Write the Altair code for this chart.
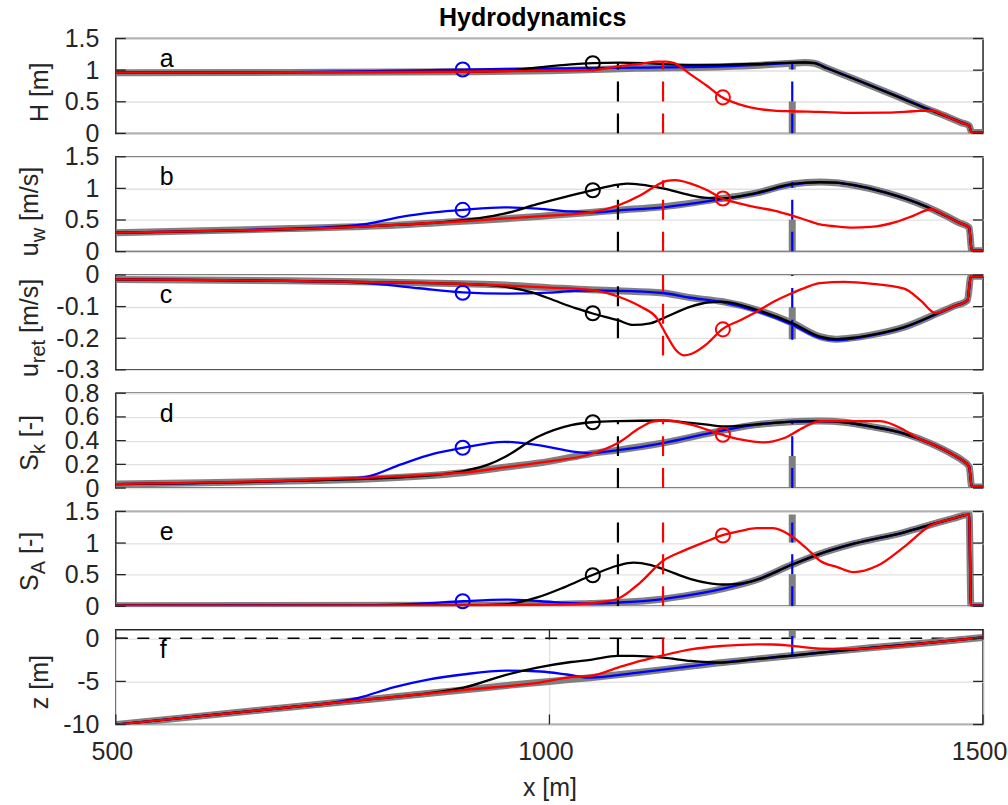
import altair as alt
import pandas as pd

# ---------------- data ----------------
# Panel a : H [m]
A_GREY_X = [500, 700, 900, 1000, 1100, 1200, 1250, 1280, 1295, 1305, 1320, 1400, 1435, 1460, 1475, 1484, 1487, 1500]
A_GREY_Y = [0.96, 0.965, 0.975, 0.99, 1.03, 1.055, 1.085, 1.11, 1.12, 1.11, 1.03, 0.59, 0.39, 0.255, 0.17, 0.12, 0.015, 0.015]
A_BLUE_X = [500, 700, 800, 850, 900, 950, 1000, 1100, 1200, 1250, 1280, 1295, 1305, 1320, 1400, 1435, 1460, 1475, 1484, 1487, 1500]
A_BLUE_Y = [0.96, 0.97, 0.985, 0.995, 1.01, 1.02, 1.025, 1.04, 1.06, 1.09, 1.115, 1.125, 1.115, 1.035, 0.595, 0.395, 0.26, 0.175, 0.125, 0.015, 0.015]
A_BLACK_X = [500, 900, 950, 985, 1025, 1050, 1080, 1110, 1131, 1160, 1200, 1250, 1280, 1295, 1305, 1320, 1400, 1435, 1460, 1475, 1484, 1487, 1500]
A_BLACK_Y = [0.96, 0.975, 0.99, 1.04, 1.09, 1.11, 1.12, 1.11, 1.095, 1.085, 1.085, 1.105, 1.12, 1.12, 1.11, 1.03, 0.59, 0.39, 0.255, 0.17, 0.12, 0.015, 0.015]
A_RED_X = [500, 900, 1000, 1047, 1079, 1105, 1125, 1135, 1144, 1163, 1182, 1199, 1220, 1239, 1259, 1278, 1312, 1350, 1390, 1420, 1440, 1460, 1475, 1484, 1487, 1500]
A_RED_Y = [0.96, 0.975, 0.99, 0.995, 1.06, 1.10, 1.135, 1.135, 1.11, 0.93, 0.75, 0.57, 0.455, 0.39, 0.36, 0.35, 0.34, 0.325, 0.33, 0.35, 0.362, 0.255, 0.17, 0.12, 0.015, 0.015]

# Panel b : u_w [m/s]
B_GREY_X = [500, 600, 700, 790, 900, 950, 1000, 1047, 1079, 1131, 1199, 1239, 1280, 1312, 1330, 1351, 1389, 1435, 1458, 1472, 1484, 1487, 1500]
B_GREY_Y = [0.30, 0.33, 0.365, 0.40, 0.48, 0.52, 0.57, 0.62, 0.655, 0.71, 0.84, 0.93, 1.07, 1.10, 1.09, 1.05, 0.93, 0.71, 0.56, 0.46, 0.38, 0.015, 0.015]
B_BLUE_X = [500, 700, 750, 790, 829, 867, 900, 948, 986, 1025, 1050, 1079, 1131, 1199, 1239, 1280, 1312, 1330, 1351, 1389, 1435, 1458, 1472, 1484, 1487, 1500]
B_BLUE_Y = [0.30, 0.365, 0.39, 0.44, 0.55, 0.62, 0.66, 0.70, 0.68, 0.635, 0.62, 0.65, 0.70, 0.83, 0.92, 1.06, 1.095, 1.09, 1.05, 0.93, 0.71, 0.56, 0.46, 0.38, 0.015, 0.015]
B_BLACK_X = [500, 790, 880, 920, 948, 986, 1025, 1049, 1079, 1090, 1105, 1131, 1163, 1182, 1199, 1239, 1280, 1312, 1330, 1351, 1389, 1435, 1458, 1472, 1484, 1487, 1500]
B_BLACK_Y = [0.30, 0.40, 0.47, 0.53, 0.60, 0.75, 0.89, 0.97, 1.06, 1.075, 1.06, 1.0, 0.89, 0.85, 0.84, 0.93, 1.07, 1.10, 1.09, 1.05, 0.93, 0.71, 0.56, 0.46, 0.38, 0.015, 0.015]
B_RED_X = [500, 790, 900, 1000, 1047, 1079, 1105, 1124, 1135, 1145, 1163, 1182, 1199, 1220, 1239, 1259, 1280, 1296, 1312, 1330, 1350, 1370, 1400, 1420, 1440, 1458, 1472, 1484, 1487, 1500]
B_RED_Y = [0.30, 0.40, 0.48, 0.57, 0.62, 0.73, 0.89, 1.05, 1.12, 1.13, 1.075, 0.97, 0.84, 0.76, 0.70, 0.65, 0.57, 0.50, 0.43, 0.40, 0.38, 0.39, 0.47, 0.57, 0.67, 0.56, 0.46, 0.38, 0.015, 0.015]

# Panel c : u_ret [m/s]
C_GREY_X = [500, 700, 800, 900, 948, 1000, 1047, 1079, 1131, 1163, 1199, 1239, 1280, 1312, 1330, 1345, 1370, 1409, 1447, 1465, 1482, 1486, 1500]
C_GREY_Y = [-0.014, -0.018, -0.022, -0.028, -0.032, -0.04, -0.047, -0.05, -0.057, -0.072, -0.084, -0.11, -0.152, -0.195, -0.203, -0.2, -0.19, -0.165, -0.122, -0.1, -0.08, -0.004, -0.004]
C_BLUE_X = [500, 750, 800, 850, 900, 950, 1000, 1040, 1079, 1131, 1163, 1199, 1239, 1280, 1312, 1330, 1345, 1370, 1409, 1447, 1465, 1482, 1486, 1500]
C_BLUE_Y = [-0.014, -0.02, -0.028, -0.042, -0.055, -0.059, -0.056, -0.049, -0.05, -0.057, -0.072, -0.086, -0.114, -0.157, -0.199, -0.206, -0.203, -0.192, -0.166, -0.123, -0.101, -0.08, -0.004, -0.004]
C_BLACK_X = [500, 900, 948, 980, 1005, 1030, 1049, 1079, 1097, 1116, 1131, 1163, 1182, 1199, 1239, 1280, 1312, 1330, 1345, 1370, 1409, 1447, 1465, 1482, 1486, 1500]
C_BLACK_Y = [-0.014, -0.028, -0.037, -0.055, -0.08, -0.105, -0.121, -0.143, -0.158, -0.153, -0.137, -0.10, -0.087, -0.084, -0.11, -0.152, -0.195, -0.203, -0.2, -0.19, -0.165, -0.122, -0.1, -0.08, -0.004, -0.004]
C_RED_X = [500, 900, 1000, 1047, 1079, 1105, 1124, 1135, 1146, 1155, 1164, 1182, 1199, 1220, 1239, 1259, 1280, 1296, 1312, 1340, 1370, 1409, 1428, 1445, 1465, 1482, 1486, 1500]
C_RED_Y = [-0.014, -0.028, -0.04, -0.047, -0.068, -0.10, -0.137, -0.19, -0.238, -0.254, -0.249, -0.217, -0.172, -0.143, -0.116, -0.084, -0.057, -0.039, -0.026, -0.022, -0.027, -0.043, -0.08, -0.12, -0.1, -0.08, -0.004, -0.004]

# Panel d : S_k [-]
D_GREY_X = [500, 600, 700, 790, 900, 948, 1000, 1047, 1079, 1131, 1199, 1239, 1280, 1312, 1340, 1370, 1409, 1440, 1466, 1476, 1484, 1487, 1500]
D_GREY_Y = [0.034, 0.045, 0.06, 0.077, 0.13, 0.175, 0.225, 0.29, 0.32, 0.38, 0.485, 0.535, 0.56, 0.565, 0.555, 0.52, 0.46, 0.375, 0.28, 0.235, 0.18, 0.01, 0.01]
D_BLUE_X = [500, 700, 760, 790, 829, 867, 900, 948, 979, 1000, 1025, 1047, 1079, 1131, 1199, 1239, 1280, 1312, 1340, 1370, 1409, 1440, 1466, 1476, 1484, 1487, 1500]
D_BLUE_Y = [0.034, 0.06, 0.075, 0.096, 0.20, 0.29, 0.34, 0.39, 0.37, 0.345, 0.31, 0.295, 0.32, 0.38, 0.485, 0.535, 0.56, 0.565, 0.555, 0.52, 0.46, 0.375, 0.28, 0.235, 0.18, 0.01, 0.01]
D_BLACK_X = [500, 700, 850, 905, 930, 948, 986, 1025, 1049, 1079, 1131, 1163, 1182, 1199, 1220, 1239, 1280, 1312, 1340, 1370, 1409, 1440, 1466, 1476, 1484, 1487, 1500]
D_BLACK_Y = [0.034, 0.06, 0.10, 0.15, 0.20, 0.26, 0.43, 0.53, 0.555, 0.565, 0.57, 0.55, 0.535, 0.52, 0.525, 0.537, 0.56, 0.565, 0.555, 0.52, 0.46, 0.375, 0.28, 0.235, 0.18, 0.01, 0.01]
D_RED_X = [500, 900, 948, 1000, 1047, 1079, 1105, 1119, 1135, 1163, 1199, 1220, 1247, 1270, 1293, 1312, 1340, 1381, 1409, 1425, 1440, 1466, 1476, 1484, 1487, 1500]
D_RED_Y = [0.034, 0.13, 0.175, 0.225, 0.285, 0.38, 0.51, 0.56, 0.57, 0.535, 0.45, 0.41, 0.385, 0.42, 0.51, 0.565, 0.565, 0.565, 0.49, 0.42, 0.375, 0.28, 0.235, 0.18, 0.01, 0.01]

# Panel e : S_A [-]
E_GREY_X = [500, 900, 1000, 1047, 1079, 1131, 1163, 1199, 1239, 1280, 1312, 1351, 1409, 1447, 1466, 1484, 1486, 1500]
E_GREY_Y = [0.01, 0.015, 0.025, 0.045, 0.06, 0.115, 0.18, 0.275, 0.42, 0.66, 0.83, 0.99, 1.17, 1.32, 1.39, 1.45, 0.01, 0.01]
E_BLUE_X = [500, 780, 850, 900, 950, 990, 1030, 1047, 1079, 1131, 1163, 1199, 1239, 1280, 1312, 1351, 1409, 1447, 1466, 1484, 1486, 1500]
E_BLUE_Y = [0.01, 0.015, 0.04, 0.08, 0.105, 0.08, 0.05, 0.045, 0.06, 0.115, 0.18, 0.275, 0.42, 0.66, 0.83, 0.99, 1.17, 1.32, 1.39, 1.45, 0.01, 0.01]
E_BLACK_X = [500, 900, 948, 986, 1017, 1049, 1079, 1097, 1116, 1131, 1163, 1182, 1199, 1220, 1239, 1280, 1312, 1351, 1409, 1447, 1466, 1484, 1486, 1500]
E_BLACK_Y = [0.01, 0.015, 0.03, 0.14, 0.30, 0.49, 0.645, 0.69, 0.655, 0.59, 0.43, 0.37, 0.345, 0.36, 0.42, 0.66, 0.83, 0.99, 1.17, 1.32, 1.39, 1.45, 0.01, 0.01]
E_RED_X = [500, 900, 1000, 1040, 1060, 1079, 1105, 1131, 1155, 1180, 1199, 1220, 1239, 1258, 1278, 1297, 1312, 1332, 1351, 1378, 1409, 1440, 1466, 1484, 1486, 1500]
E_RED_Y = [0.01, 0.015, 0.025, 0.04, 0.07, 0.12, 0.38, 0.72, 0.88, 1.02, 1.12, 1.19, 1.236, 1.236, 1.12, 0.91, 0.72, 0.62, 0.54, 0.64, 0.94, 1.28, 1.39, 1.45, 0.01, 0.01]

# Panel f : z [m]
F_GREY_X = [500, 600, 700, 800, 900, 948, 1000, 1047, 1100, 1150, 1200, 1240, 1280, 1370, 1440, 1500]
F_GREY_Y = [-10, -9, -8, -7, -6, -5.5, -5.0, -4.57, -4.0, -3.4, -2.8, -2.4, -2.0, -1.1, -0.5, 0.1]
F_BLUE_X = [500, 700, 740, 780, 820, 860, 900, 950, 990, 1020, 1047, 1100, 1150, 1200, 1240, 1280, 1370, 1440, 1500]
F_BLUE_Y = [-10, -8, -7.6, -6.9, -5.7, -4.8, -4.2, -3.75, -3.85, -4.2, -4.57, -4.0, -3.4, -2.8, -2.4, -2.0, -1.1, -0.5, 0.1]
F_BLACK_X = [500, 800, 850, 880, 900, 948, 986, 1025, 1047, 1079, 1097, 1131, 1163, 1199, 1240, 1280, 1370, 1440, 1500]
F_BLACK_Y = [-10, -7, -6.5, -6.1, -5.75, -4.3, -3.4, -2.75, -2.5, -2.05, -2.05, -2.24, -2.63, -2.82, -2.4, -2.0, -1.1, -0.5, 0.1]
F_RED_X = [500, 900, 990, 1025, 1047, 1079, 1105, 1131, 1163, 1199, 1239, 1258, 1280, 1312, 1351, 1389, 1440, 1500]
F_RED_Y = [-10, -6, -5.1, -4.5, -4.37, -3.4, -2.63, -1.98, -1.28, -0.89, -0.7, -0.72, -0.89, -1.2, -1.25, -1.0, -0.5, 0.1]

# vertical markers (x position and [start, end] value per panel a..f)
VL_X = {"grey": 1280, "blue": 1280, "black": 1079, "red": 1131}
VL_GREY = [[0, 1.12], [0, 1.10], [-0.203, 0], [0, 0.565], [0, 1.45], [0, 1.0]]
VL_BLUE = [[0, 1.12], [0, 1.10], [-0.205, 0], [0, 0.565], [0, 1.45], [-2.05, 1.0]]
VL_BLACK = [[0, 1.12], [0, 1.07], [-0.20, 0], [0, 0.565], [0, 1.45], [-2.05, 0]]
VL_RED = [[0, 1.135], [0, 1.13], [-0.255, 0], [0, 0.57], [0, 1.45], [-1.98, 0]]

# circle markers
CIRC_X = {"blue": 900, "black": 1050, "red": 1200}
CIRC_BLUE = [1.01, 0.66, -0.056, 0.34, 0.08]
CIRC_BLACK = [1.11, 0.97, -0.121, 0.555, 0.49]
CIRC_RED = [0.57, 0.84, -0.172, 0.45, 1.12]

LETTERS = ["a", "b", "c", "d", "e", "f"]
DOMAINS = [[0, 1.5], [0, 1.5], [-0.3, 0], [0, 0.8], [0, 1.5], [-10, 1]]
YTICKS = [[0, 0.5, 1, 1.5], [0, 0.5, 1, 1.5], [-0.3, -0.2, -0.1, 0],
          [0, 0.2, 0.4, 0.6, 0.8], [0, 0.5, 1, 1.5], [-10, -5, 0]]
XTICKS = [500, 1000, 1500]
YLABELS = [
    [("H [m]", False)],
    [("u", False), ("w", True), (" [m/s]", False)],
    [("u", False), ("ret", True), (" [m/s]", False)],
    [("S", False), ("k", True), (" [-]", False)],
    [("S", False), ("A", True), (" [-]", False)],
    [("z [m]", False)],
]
TITLE = "Hydrodynamics"

# ---------------- styling ----------------
FONT = "Liberation Sans"
FS = 25
SUBFS = 20
W = 868.5
H = 95
GREY = "#808080"
COL = {"grey": GREY, "blue": "#0000ff", "black": "#000000", "red": "#ff0000"}
AXC = "#262626"

CW = {'u': .556, 'w': .722, ' ': .278, '[': .278, 'm': .833, '/': .278, 's': .5, ']': .278,
      'r': .333, 'e': .556, 't': .278, 'S': .667, 'k': .5, '-': .333, 'A': .667, 'H': .722, 'z': .5}


def tw(s, fs):
    return sum(CW.get(c, .556) for c in s) * fs


ONE = pd.DataFrame({"k": [0]})
XSC = alt.Scale(domain=[500, 1500], nice=False, zero=False)


def panel(i, series, vls, circs):
    ysc = alt.Scale(domain=DOMAINS[i], nice=False, zero=False)
    yax = alt.Axis(values=YTICKS[i], labelExpr="'' + datum.value", ticks=False, domain=False,
                   grid=True, gridColor="#e1e1e1", gridWidth=1.4, labelPadding=17,
                   labelFontSize=FS, labelFont=FONT, labelColor=AXC, labelOverlap=False,
                   labelFlush=False, title=None)
    if i == 5:
        xax = alt.Axis(values=XTICKS, labelExpr="'' + datum.value", ticks=False, domain=False,
                       grid=True, gridColor="#e1e1e1", gridWidth=1.4, labelPadding=15,
                       labelOffset=-4, labelFontSize=FS, labelFont=FONT, labelColor=AXC,
                       labelOverlap=False, labelFlush=False, title="x [m]", titleFont=FONT,
                       titleFontSize=FS, titleFontWeight="normal", titleColor=AXC, titlePadding=11)
    else:
        xax = None
    X = alt.X("x:Q", scale=XSC, axis=xax)
    Y = alt.Y("v:Q", scale=ysc, axis=yax)
    layers = []
    # horizontal dashed water level in panel f
    if i == 5:
        layers.append(alt.Chart(pd.DataFrame({"x": [500], "x2": [1500], "v": [0]}))
                      .mark_rule(color="black", strokeWidth=1.6, strokeDash=[12, 9.5])
                      .encode(x=X, x2="x2:Q", y=Y))
    for name in ["grey", "blue", "black", "red"]:
        xs, ys = series[name]
        width = 7 if name == "grey" else 2.3
        layers.append(alt.Chart(pd.DataFrame({"x": xs, "v": ys}))
                      .mark_line(color=COL[name], strokeWidth=width, interpolate="monotone",
                                 strokeJoin="round", strokeCap="butt", clip=True)
                      .encode(x=X, y=Y))
        v0, v1 = vls[name]
        dash = [32, 32] if name == "grey" else [20, 12]
        vw = 7 if name == "grey" else 2.2
        layers.append(alt.Chart(pd.DataFrame({"x": [VL_X[name]], "v": [v0], "v2": [v1]}))
                      .mark_rule(color=COL[name], strokeWidth=vw, strokeDash=dash, clip=True)
                      .encode(x=X, y=Y, y2="v2:Q"))
        if name in circs:
            layers.append(alt.Chart(pd.DataFrame({"x": [CIRC_X[name]], "v": [circs[name]]}))
                          .mark_point(shape="circle", filled=False, size=200, strokeWidth=2,
                                      color=COL[name], opacity=1)
                          .encode(x=X, y=Y))
    # inward ticks (left and right)
    tdf = pd.DataFrame({"v": YTICKS[i]})
    layers.append(alt.Chart(tdf).mark_rule(color=AXC, strokeWidth=1.3)
                  .encode(y=Y, x=alt.value(0), x2=alt.value(10)))
    layers.append(alt.Chart(tdf).mark_rule(color=AXC, strokeWidth=1.3)
                  .encode(y=Y, x=alt.value(W - 10), x2=alt.value(W)))
    if i == 5:
        xdf = pd.DataFrame({"x": XTICKS})
        layers.append(alt.Chart(xdf).mark_rule(color=AXC, strokeWidth=1.3)
                      .encode(x=X, y=alt.value(0), y2=alt.value(10)))
        layers.append(alt.Chart(xdf).mark_rule(color=AXC, strokeWidth=1.3)
                      .encode(x=X, y=alt.value(H - 10), y2=alt.value(H)))
    # panel letter
    layers.append(alt.Chart(ONE).mark_text(text=LETTERS[i], font=FONT, fontSize=FS, color="black",
                                           align="left", baseline="alphabetic")
                  .encode(x=alt.value(44), y=alt.value(28.5)))
    # y title (with subscripts)
    parts = YLABELS[i]
    has_sub = any(s for _, s in parts)
    base_x = -77.5 if has_sub else -67.5
    centers = [53.8, 54.8, 53.0, 49.7, 50.0, 52.5]
    total = sum(tw(t, SUBFS if s else FS) for t, s in parts)
    y = centers[i] + total / 2
    for t, s in parts:
        fs = SUBFS if s else FS
        lead = len(t) - len(t.lstrip(" "))
        if lead:
            y -= tw(" " * lead, fs)
            t = t.lstrip(" ")
        layers.append(alt.Chart(ONE).mark_text(text=t, font=FONT, fontSize=fs, color=AXC, angle=270,
                                               align="left", baseline="alphabetic")
                      .encode(x=alt.value(base_x + (7 if s else 0)), y=alt.value(y)))
        y -= tw(t, fs)
    if i == 0:
        layers.append(alt.Chart(ONE).mark_text(text=TITLE, font=FONT, fontSize=FS, fontWeight="bold",
                                               color="black", align="center", baseline="alphabetic")
                      .encode(x=alt.value(417.5), y=alt.value(-12.7)))
        # invisible anchor fixing the plot origin on the page
        layers.append(alt.Chart(ONE).mark_rule(strokeWidth=1, opacity=0)
                      .encode(x=alt.value(-114.5), x2=alt.value(-114.5), y=alt.value(-36.7), y2=alt.value(-36.7)))
    return alt.layer(*layers).properties(width=W, height=H)


ALL = [
    dict(grey=(A_GREY_X, A_GREY_Y), blue=(A_BLUE_X, A_BLUE_Y), black=(A_BLACK_X, A_BLACK_Y), red=(A_RED_X, A_RED_Y)),
    dict(grey=(B_GREY_X, B_GREY_Y), blue=(B_BLUE_X, B_BLUE_Y), black=(B_BLACK_X, B_BLACK_Y), red=(B_RED_X, B_RED_Y)),
    dict(grey=(C_GREY_X, C_GREY_Y), blue=(C_BLUE_X, C_BLUE_Y), black=(C_BLACK_X, C_BLACK_Y), red=(C_RED_X, C_RED_Y)),
    dict(grey=(D_GREY_X, D_GREY_Y), blue=(D_BLUE_X, D_BLUE_Y), black=(D_BLACK_X, D_BLACK_Y), red=(D_RED_X, D_RED_Y)),
    dict(grey=(E_GREY_X, E_GREY_Y), blue=(E_BLUE_X, E_BLUE_Y), black=(E_BLACK_X, E_BLACK_Y), red=(E_RED_X, E_RED_Y)),
    dict(grey=(F_GREY_X, F_GREY_Y), blue=(F_BLUE_X, F_BLUE_Y), black=(F_BLACK_X, F_BLACK_Y), red=(F_RED_X, F_RED_Y)),
]

panels = []
for i in range(6):
    vls = {"grey": VL_GREY[i], "blue": VL_BLUE[i], "black": VL_BLACK[i], "red": VL_RED[i]}
    circs = {}
    if i < 5:
        circs = {"blue": CIRC_BLUE[i], "black": CIRC_BLACK[i], "red": CIRC_RED[i]}
    panels.append(panel(i, ALL[i], vls, circs))

chart = alt.vconcat(*panels, spacing=23.4, bounds="flush").properties(padding=0).configure_view(
    stroke=AXC, strokeWidth=1.5)

chart.save("out.html", embed_options={"renderer": "svg", "actions": False})
